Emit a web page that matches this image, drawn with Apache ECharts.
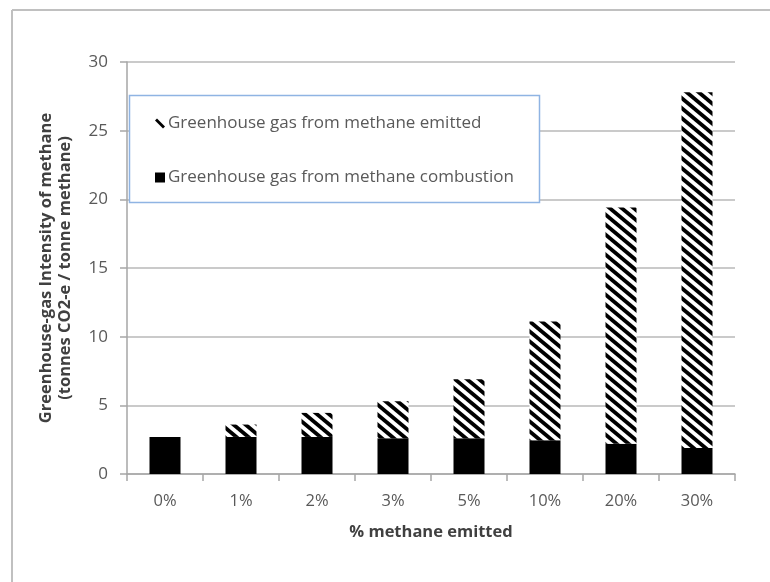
<!DOCTYPE html>
<html>
<head>
<meta charset="utf-8">
<script src="https://cdn.jsdelivr.net/npm/echarts@6/dist/echarts.min.js"></script>
<style>html,body{margin:0;padding:0;background:#fff}#c{width:770px;height:582px}</style>
</head>
<body>
<div id="c"></div>
<script>
var categories = ['0%', '1%', '2%', '3%', '5%', '10%', '20%', '30%'];
var combustion = [2.7, 2.7, 2.7, 2.6, 2.6, 2.45, 2.2, 1.9];
var emitted = [0, 0.9, 1.75, 2.7, 4.3, 8.65, 17.2, 25.9];
var yTicks = [0, 5, 10, 15, 20, 25, 30];
var seriesNames = ['Greenhouse gas from methane emitted', 'Greenhouse gas from methane combustion'];

function makeHatch() {
  var w = 12, h = 10;
  var c = document.createElement('canvas');
  c.width = w; c.height = h;
  var ctx = c.getContext('2d');
  ctx.fillStyle = '#fff';
  ctx.fillRect(0, 0, w, h);
  ctx.strokeStyle = '#000';
  ctx.lineWidth = 3.8;
  for (var k = -1; k <= 1; k++) {
    ctx.beginPath();
    ctx.moveTo(k * w - w * 0.2, -h * 0.2);
    ctx.lineTo(k * w + w * 1.2, h * 1.2);
    ctx.stroke();
  }
  return c;
}
var hatch = { image: makeHatch(), repeat: 'repeat' };

var chart = echarts.init(document.getElementById('c'), null, { renderer: 'canvas' });
var font = '"Open Sans", "Noto Sans", sans-serif';
chart.setOption({
  animation: false,
  textStyle: { fontFamily: font },
  grid: { left: 127, right: 35, top: 62, bottom: 108, containLabel: false },
  graphic: [
    { type: 'line', shape: { x1: 12, y1: 10, x2: 770, y2: 10 }, style: { stroke: '#c0c0c0', lineWidth: 2 } },
    { type: 'line', shape: { x1: 12, y1: 10, x2: 12, y2: 582 }, style: { stroke: '#c0c0c0', lineWidth: 2 } },
    { type: 'rect', z: 5, shape: { x: 129.5, y: 95.5, width: 410, height: 107 }, style: { fill: '#fff', stroke: '#8fb4e3', lineWidth: 1.5 } }
  ],
  legend: {
    data: [
      { name: seriesNames[0], icon: 'path://M0,2 L2,0 L10,8 L8,10 Z', itemStyle: { color: '#000' } },
      { name: seriesNames[1], icon: 'rect' }
    ],
    orient: 'vertical',
    left: 155, top: 115,
    padding: 0,
    itemWidth: 10, itemHeight: 10,
    itemGap: 37,
    z: 10,
    textStyle: { fontFamily: font, fontSize: 17, color: '#595959', padding: [0, 0, 0, -2] }
  },
  xAxis: {
    type: 'category',
    data: categories,
    name: '% methane emitted',
    nameLocation: 'middle',
    nameGap: 50,
    nameTextStyle: { fontFamily: font, fontSize: 16.5, fontWeight: 'bold', color: '#404040' },
    axisLine: { lineStyle: { color: '#a6a6a6', width: 1.5 } },
    axisTick: { show: true, length: 7, lineStyle: { color: '#a6a6a6', width: 1.5 } },
    axisLabel: { margin: 19, fontSize: 16.5, color: '#595959', fontFamily: font }
  },
  yAxis: {
    type: 'value',
    min: yTicks[0], max: yTicks[yTicks.length - 1], interval: 5,
    name: 'Greenhouse-gas Intensity of methane\n(tonnes CO2-e / tonne methane)',
    nameLocation: 'middle',
    nameRotate: 90,
    nameGap: 52,
    nameTextStyle: { fontFamily: font, fontSize: 16.5, fontWeight: 'bold', color: '#404040', lineHeight: 19 },
    axisLine: { show: true, lineStyle: { color: '#a6a6a6', width: 1.5 } },
    axisTick: { show: true, length: 7, lineStyle: { color: '#a6a6a6', width: 1.5 } },
    axisLabel: { margin: 19, fontSize: 17, color: '#595959', fontFamily: font },
    splitLine: { show: true, lineStyle: { color: '#b8b8b8', width: 1.5 } }
  },
  series: [
    {
      name: seriesNames[1],
      type: 'bar', stack: 'g', barWidth: 31,
      itemStyle: { color: '#000' },
      data: combustion
    },
    {
      name: seriesNames[0],
      type: 'bar', stack: 'g', barWidth: 31,
      itemStyle: { color: hatch },
      data: emitted
    }
  ]
});
</script>
</body>
</html>
